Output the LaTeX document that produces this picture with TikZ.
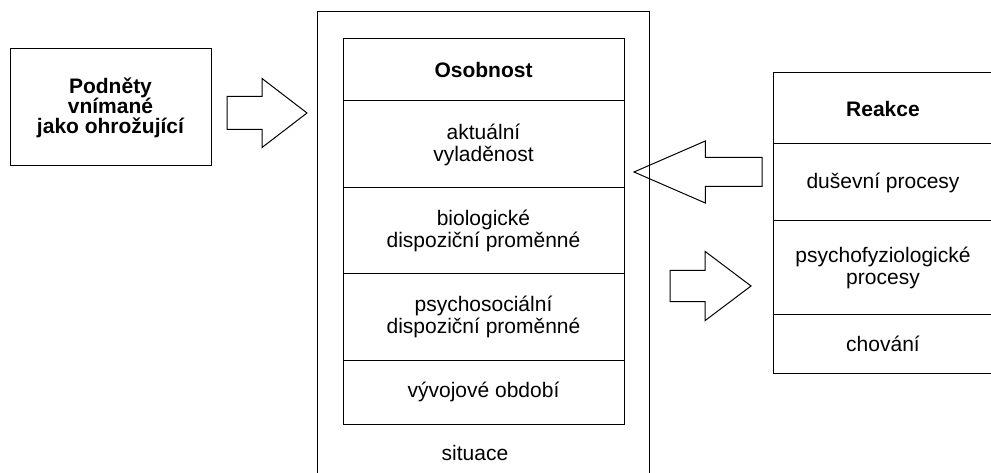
\documentclass[tikz,border=0pt]{standalone}
\usepackage{fontspec}
\setmainfont{Liberation Sans}
\usetikzlibrary{positioning,shapes.arrows}

\begin{document}
\begin{tikzpicture}[x=1pt,y=-1pt,line width=1pt,
	box/.style={draw,rectangle,inner sep=0pt,outer sep=0pt,align=center,font=\fontsize{21}{22}\selectfont},
	head/.style={font=\bfseries\fontsize{21}{19.5}\selectfont},
	row/.style={box,minimum width=281pt},
	rrow/.style={box,minimum width=220pt},
	fat/.style={draw,single arrow,inner sep=0pt,outer sep=0pt,minimum width=0pt,text depth=0pt}]
	\useasboundingbox (0,0) rectangle (991,473);
	\clip (0,0) rectangle (991,473);
	% stimulus
	\node[box,head,minimum width=201pt,minimum height=117pt,anchor=north west] (podnety) at (10,49) {Podněty\\vnímané\\jako ohrožující};
	% personality inside the situation
	\node[box,minimum width=332pt,minimum height=470pt,anchor=north west] (ramec) at (317,12) {};
	\node[font=\fontsize{21}{22}\selectfont] (situace) at (475,453) {situace};
	\node[row,head,minimum height=62pt,anchor=north west] (osobnost) at (343,39) {Osobnost};
	\node[row,minimum height=87pt,below=0pt of osobnost] (vyladenost) {aktuální\\vyladěnost};
	\node[row,minimum height=86pt,below=0pt of vyladenost] (biologicke) {biologické\\dispoziční proměnné};
	\node[row,minimum height=86pt,below=0pt of biologicke] (psychosocialni) {psychosociální\\dispoziční proměnné};
	\node[row,minimum height=64pt,below=0pt of psychosocialni] (obdobi) {vývojové období};
	% reactions
	\node[rrow,head,minimum height=71pt,anchor=north west] (reakce) at (773,73) {Reakce};
	\node[rrow,minimum height=77pt,below=0pt of reakce] (dusevni) {duševní procesy};
	\node[rrow,minimum height=93pt,below=0pt of dusevni] (psychofyz) {psychofyziologické\\procesy};
	\node[rrow,minimum height=59pt,below=0pt of psychofyz] (chovani) {chování};
	% block arrows
	\node[fat,text height=32pt,single arrow head extend=18pt,single arrow tip angle=75,minimum height=80pt,anchor=tail] (sipka1) at (227,113) {};
	\node[fat,shape border rotate=180,text height=28pt,single arrow head extend=16.5pt,single arrow tip angle=47,minimum height=128pt,anchor=tail] (sipka2) at (762,172) {};
	\node[fat,text height=30pt,single arrow head extend=19pt,single arrow tip angle=74,minimum height=81pt,anchor=tail] (sipka3) at (670,286) {};
\end{tikzpicture}
\end{document}
